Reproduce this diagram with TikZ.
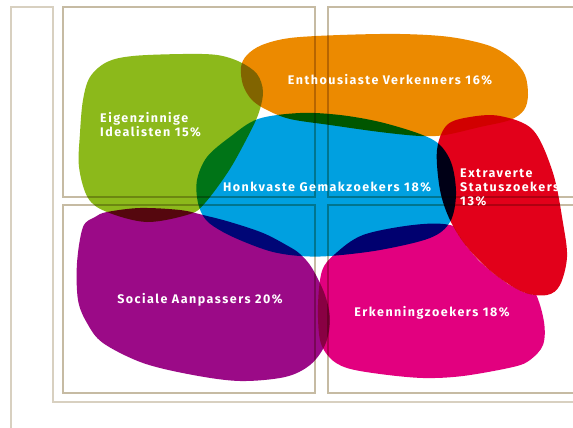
\documentclass[tikz,border=0pt]{standalone}
\usepackage{fontspec}
\newfontfamily\blobfont[LetterSpace=12]{Fira Sans}
\usepackage{tikz}
\definecolor{frame}{HTML}{D8D0C0}
\definecolor{panel}{HTML}{C6BBA3}
\definecolor{idealist}{HTML}{8CB91B}
\definecolor{verkenner}{HTML}{EC8A00}
\definecolor{gemak}{HTML}{00A0E0}
\definecolor{status}{HTML}{E2001A}
\definecolor{aanpasser}{HTML}{9B0A87}
\definecolor{erkenning}{HTML}{E2007F}
\tikzset{
  frameline/.style={line width=1.6pt, draw=frame},
  panelline/.style={line width=2pt, draw=panel},
  blob/.style={blend mode=multiply},
  rounded/.style={smooth cycle, tension=0.55},
  lab/.style={text=white, font=\blobfont\bfseries\fontsize{12.5}{14}\selectfont, inner sep=0pt}
}

\begin{document}
\begin{tikzpicture}[x=1pt, y=-1pt]
  \useasboundingbox[fill=white] (0,0) rectangle (573,428);

  % frame and panels
  \draw[frameline] (11,428) -- (11,7) -- (53,7) -- (53,402) -- (575,402);
  \draw[panelline] (63,7) rectangle (315,197);
  \draw[panelline] (63,205) rectangle (315,393);
  \draw[panelline] (580,7) -- (328,7) -- (328,197) -- (580,197);
  \draw[panelline] (580,205) -- (328,205) -- (328,393) -- (580,393);

  % segments
  \fill[idealist, blob] plot[rounded] coordinates {(83,100) (90,77) (107,62) (133,56) (183,54) (217,55) (240,62) (257,74) (263,92) (258,115) (245,142) (228,172) (205,203) (190,214) (147,222) (107,212) (88,198) (79,167) (80,133)};
  \fill[verkenner, blob] plot[rounded] coordinates {(241,67) (247,55) (262,45) (290,38) (340,35) (400,34) (450,37) (490,46) (513,60) (525,75) (528,95) (524,110) (510,120) (480,127) (445,135) (420,136) (380,132) (330,125) (290,119) (267,110) (252,100) (243,85)};
  \fill[gemak, blob] plot[rounded] coordinates {(258,119) (300,113) (340,115) (380,122) (420,134) (440,145) (452,165) (456,195) (450,222) (430,238) (380,250) (330,256) (300,256) (273,252) (247,243) (223,232) (206,220) (198,203) (197,180) (207,157) (230,137)};
  \fill[status, blob] plot[rounded] coordinates {(437,150) (447,125) (470,117) (500,116) (533,130) (553,173) (563,223) (567,257) (560,285) (547,295) (523,292) (493,273) (467,247) (450,220) (440,190)};
  \fill[aanpasser, blob] plot[rounded] coordinates {(83,227) (95,217) (107,212) (140,208) (180,210) (203,215) (230,222) (263,233) (288,246) (300,254) (312,268) (325,295) (330,320) (325,345) (310,365) (285,377) (240,381) (193,375) (143,363) (103,343) (87,323) (78,300) (77,263)};
  \begin{scope}
    \clip (0,0) -- (437,0) -- (437,150) -- (440,190) -- (444,206) -- (450,220) -- (458,234) -- (467,247) -- (479,261) -- (493,273) -- (508,284) -- (523,292) -- (535,295) -- (547,295) -- (573,295) -- (573,428) -- (0,428) -- cycle;
    \fill[erkenning, blob] plot[rounded] coordinates {(335,254) (363,235) (413,225) (450,225) (480,240) (515,262) (535,292) (544,322) (543,345) (530,360) (513,367) (463,376) (423,378) (380,374) (347,368) (330,358) (320,340) (318,305) (322,271)};
  \end{scope}

  \node[lab, anchor=west, align=left] (idealist) at (100,125) {Eigenzinnige\\Idealisten 15\%};
  \node[lab] (verkenner) at (390,80) {Enthousiaste Verkenners 16\%};
  \node[lab] (gemak) at (327,187) {Honkvaste Gemakzoekers 18\%};
  \node[lab, anchor=west, align=left] (status) at (460,187) {Extraverte\\Statuszoekers\\13\%};
  \node[lab] (aanpasser) at (200,300) {Sociale Aanpassers 20\%};
  \node[lab] (erkenning) at (432,313) {Erkenningzoekers 18\%};
\end{tikzpicture}
\end{document}
